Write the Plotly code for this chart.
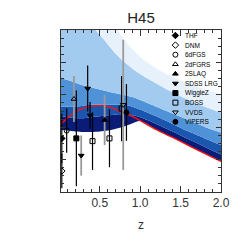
import plotly.graph_objects as go

# ---------------- data (y in arbitrary units 0..1) ----
z_knots = [0.02, 0.1, 0.2, 0.3, 0.4, 0.5, 0.6, 0.7, 0.8, 0.9, 1.0, 1.2, 1.4, 1.6, 1.8, 2.0]

# red reference model curve
red_model = [0.420, 0.456, 0.497, 0.518, 0.530, 0.533, 0.527, 0.509, 0.488, 0.467,
             0.441, 0.385, 0.337, 0.287, 0.237, 0.189]

# envelopes of the ensemble of blue model curves (bottom -> top)
env_bottom = [0.385, 0.379, 0.373, 0.370, 0.370, 0.373, 0.379, 0.391, 0.405, 0.423,
              0.438, 0.385, 0.337, 0.287, 0.237, 0.189]
env_navy = [0.467, 0.462, 0.456, 0.456, 0.462, 0.467, 0.473, 0.479, 0.479, 0.473,
            0.462, 0.420, 0.373, 0.325, 0.278, 0.231]
env_dark = [0.527, 0.527, 0.527, 0.533, 0.538, 0.538, 0.538, 0.538, 0.538, 0.527,
            0.509, 0.467, 0.420, 0.373, 0.331, 0.290]
env_mid = [0.704, 0.692, 0.675, 0.657, 0.645, 0.633, 0.621, 0.609, 0.598, 0.586,
           0.568, 0.527, 0.485, 0.444, 0.402, 0.367]
env_light = [1.533, 1.355, 1.207, 1.107, 1.030, 0.970, 0.911, 0.852, 0.805, 0.763,
             0.728, 0.669, 0.615, 0.568, 0.527, 0.491]
env_top = [2.361, 2.006, 1.710, 1.473, 1.296, 1.178, 1.089, 1.012, 0.941, 0.882,
           0.834, 0.763, 0.710, 0.669, 0.633, 0.604]

# measurements
survey_names = ["THF", "DNM", "6dFGS", "2dFGRS", "2SLAQ", "SDSS LRG",
                "WiggleZ", "BOSS", "VVDS", "VIPERS"]
survey_z = [[0.03], [0.03], [0.09], [0.18], [0.56], [0.27, 0.35, 0.38],
            [0.21], [0.41, 0.62, 0.77], [0.79], [0.83]]
survey_val = [[0.331], [0.130], [0.379], [0.574], [0.444], [0.225, 0.639, 0.473],
              [0.331], [0.314, 0.331, 0.515], [0.538], [0.491]]
survey_err = [[0.154], [0.107], [0.136], [0.142], [0.154], [0.124, 0.142, 0.083],
              [0.296], [0.178, 0.178, 0.201], [0.402], [0.175]]
survey_errcol = [["black"], ["black"], ["black"], ["#9a9a9a"], ["#9a9a9a"],
                 ["#9a9a9a", "black", "black"], ["black"],
                 ["black", "black", "black"], ["#9a9a9a"], ["black"]]

x_tickvals = [0.5, 1.0, 1.5, 2.0]
x_ticktext = ["0.5", "1.0", "1.5", "2.0"]

# ---------------- styles ----------------
symbols = ["diamond", "diamond-open", "circle-open", "triangle-up-open", "triangle-up",
           "triangle-down", "square", "square-open", "triangle-down-open", "circle"]
band_colors = ["#0b1c78", "#1a56ae", "#4f92d8", "#a3cbef", "#e6f1fc"]

fig = go.Figure()

# ensemble bands
fig.add_trace(go.Scatter(x=z_knots, y=env_bottom, mode="lines",
                         line=dict(width=0, shape="spline", smoothing=0.8),
                         showlegend=False, hoverinfo="skip"))
for env, col in zip([env_navy, env_dark, env_mid, env_light, env_top], band_colors):
    fig.add_trace(go.Scatter(x=z_knots, y=env, mode="lines", fill="tonexty",
                             fillcolor=col,
                             line=dict(width=0, shape="spline", smoothing=0.8),
                             showlegend=False, hoverinfo="skip"))

# red model curve
fig.add_trace(go.Scatter(x=z_knots, y=red_model, mode="lines",
                         line=dict(color="#ff1010", width=1.4, shape="spline", smoothing=0.8),
                         showlegend=False, hoverinfo="skip"))

# measurements with error bars
for name, zs, vs, es, cs, sym in zip(survey_names, survey_z, survey_val, survey_err,
                                     survey_errcol, symbols):
    for zz, vv, ee, cc in zip(zs, vs, es, cs):
        fig.add_trace(go.Scatter(
            x=[zz], y=[vv], mode="markers",
            marker=dict(symbol=sym, size=5, color="black",
                        line=dict(color="black", width=1)),
            error_y=dict(type="data", array=[ee], color=cc,
                         thickness=1.8 if cc != "black" else 1.2, width=0),
            showlegend=False, hoverinfo="skip"))

# manual legend drawn on an overlay axis (0..1 over the plot area)
leg_x_marker = 0.715
leg_x_text = 0.770
leg_y0 = 0.966
leg_dy = 0.0592
for i, (name, sym) in enumerate(zip(survey_names, symbols)):
    yy = leg_y0 - i * leg_dy
    fig.add_trace(go.Scatter(x=[leg_x_marker], y=[yy], mode="markers",
                             xaxis="x2", yaxis="y2",
                             marker=dict(symbol=sym, size=5, color="black",
                                         line=dict(color="black", width=1)),
                             showlegend=False, hoverinfo="skip"))
    fig.add_annotation(x=leg_x_text, y=yy, xref="x2", yref="y2", text=name,
                       showarrow=False, xanchor="left", yanchor="middle", borderpad=0,
                       font=dict(size=6.5, color="black", family="Liberation Sans"))

axis_common = dict(showline=True, linecolor="#333333", linewidth=1, mirror="ticks",
                   ticks="inside", tickcolor="#333333", showgrid=False, zeroline=False)

fig.update_layout(
    width=242, height=242,
    margin=dict(l=61, r=12, t=30, b=43),
    paper_bgcolor="white", plot_bgcolor="white",
    showlegend=False,
    title=dict(text="H45", x=0.5, xref="paper", y=0.925, yanchor="middle",
               font=dict(size=15, color="#222222", family="Liberation Sans")),
    xaxis=dict(range=[0.02, 2.0], tickvals=x_tickvals, ticktext=x_ticktext,
               ticklen=6, tickfont=dict(size=12, color="#333333", family="Liberation Sans"),
               title=dict(text="z", font=dict(size=12, color="#333333",
                                               family="Liberation Sans"), standoff=11),
               minor=dict(dtick=0.1, ticklen=3, ticks="inside", tickcolor="#333333"),
               **axis_common),
    yaxis=dict(range=[0, 1], showticklabels=False, dtick=0.2, ticklen=5,
               minor=dict(dtick=0.05, ticklen=3, ticks="inside", tickcolor="#333333"),
               **axis_common),
    xaxis2=dict(overlaying="x", range=[0, 1], visible=False, showgrid=False),
    yaxis2=dict(overlaying="y", range=[0, 1], visible=False, showgrid=False),
)

fig.write_html("out.html", config={"displayModeBar": False},
               post_script="document.body.style.margin='0';document.body.style.padding='0';")
